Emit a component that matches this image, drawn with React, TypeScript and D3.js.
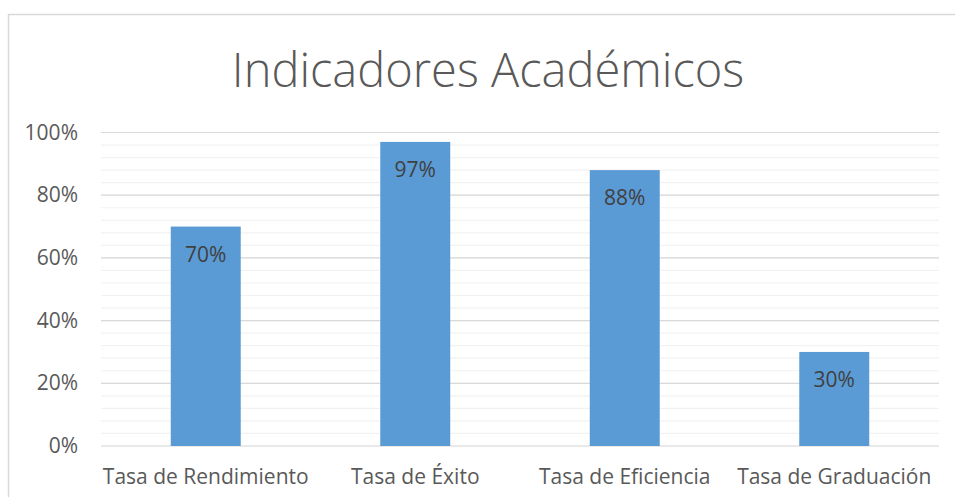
import * as d3 from "d3";
import { useEffect, useRef } from "react";

const WIDTH = 955;
const HEIGHT = 497;
const MARGIN = { top: 132, right: 16, bottom: 51, left: 93 };
const FONT = "'Open Sans', 'Noto Sans', sans-serif";
const LABEL_SIZE = 21;

const CATEGORIES = [
  "Tasa de Rendimiento",
  "Tasa de Éxito",
  "Tasa de Eficiencia",
  "Tasa de Graduación",
];
const VALUES = [0.7, 0.97, 0.88, 0.3];
const MAJOR_TICKS = [0, 0.2, 0.4, 0.6, 0.8, 1];
const MINOR_TICKS = d3.range(0, 1.0001, 0.04);

export default function App() {
  const svgRef = useRef<SVGSVGElement>(null);

  useEffect(() => {
    if (!svgRef.current) return;
    const svg = d3.select(svgRef.current);
    svg.selectAll("*").remove();

    const plotLeft = MARGIN.left + 8;
    const plotRight = WIDTH - MARGIN.right;
    const plotTop = MARGIN.top + 0.5;
    const plotBottom = HEIGHT - MARGIN.bottom;

    const x = d3
      .scaleBand()
      .domain(CATEGORIES)
      .range([plotLeft, plotRight])
      .paddingInner(0.666)
      .paddingOuter(0.333);

    const y = d3.scaleLinear().domain([0, 1]).range([plotBottom, plotTop]);

    // borde del gráfico
    svg
      .append("rect")
      .attr("x", 8.5)
      .attr("y", 14.5)
      .attr("width", 970)
      .attr("height", 500)
      .attr("fill", "white")
      .attr("stroke", "#d9d9d9")
      .attr("stroke-width", 1.5);

    // título
    svg
      .append("text")
      .attr("x", 488)
      .attr("y", 87)
      .attr("text-anchor", "middle")
      .attr("font-family", FONT)
      .attr("font-weight", 300)
      .attr("font-size", 47)
      .attr("fill", "#595959")
      .text("Indicadores Académicos");

    // líneas de cuadrícula menores
    svg
      .append("g")
      .selectAll("line")
      .data(MINOR_TICKS)
      .enter()
      .append("line")
      .attr("x1", plotLeft)
      .attr("x2", plotRight)
      .attr("y1", (d) => y(d))
      .attr("y2", (d) => y(d))
      .attr("stroke", "#f2f2f2")
      .attr("stroke-width", 1.2);

    // líneas de cuadrícula mayores
    svg
      .append("g")
      .selectAll("line")
      .data(MAJOR_TICKS)
      .enter()
      .append("line")
      .attr("x1", plotLeft)
      .attr("x2", plotRight)
      .attr("y1", (d) => y(d))
      .attr("y2", (d) => y(d))
      .attr("stroke", "#d9d9d9")
      .attr("stroke-width", 1.2);

    // etiquetas del eje Y
    svg
      .append("g")
      .selectAll("text")
      .data(MAJOR_TICKS)
      .enter()
      .append("text")
      .attr("x", 78)
      .attr("y", (d) => y(d) + 7)
      .attr("text-anchor", "end")
      .attr("font-family", FONT)
      .attr("font-size", LABEL_SIZE)
      .attr("fill", "#595959")
      .text((d) => d3.format(".0%")(d));

    // barras
    const data = CATEGORIES.map((c, i) => ({ cat: c, value: VALUES[i] }));
    svg
      .append("g")
      .selectAll("rect")
      .data(data)
      .enter()
      .append("rect")
      .attr("x", (d) => x(d.cat)!)
      .attr("y", (d) => y(d.value))
      .attr("width", x.bandwidth())
      .attr("height", (d) => plotBottom - y(d.value))
      .attr("fill", "#5b9bd5");

    // etiquetas de datos
    svg
      .append("g")
      .selectAll("text")
      .data(data)
      .enter()
      .append("text")
      .attr("x", (d) => x(d.cat)! + x.bandwidth() / 2)
      .attr("y", (d) => y(d.value) + 35)
      .attr("text-anchor", "middle")
      .attr("font-family", FONT)
      .attr("font-size", LABEL_SIZE)
      .attr("fill", "#404040")
      .text((d) => d3.format(".0%")(d.value));

    // etiquetas del eje X
    svg
      .append("g")
      .selectAll("text")
      .data(CATEGORIES)
      .enter()
      .append("text")
      .attr("x", (d) => x(d)! + x.bandwidth() / 2)
      .attr("y", plotBottom + 38)
      .attr("text-anchor", "middle")
      .attr("font-family", FONT)
      .attr("font-size", LABEL_SIZE)
      .attr("fill", "#595959")
      .text((d) => d);
  }, []);

  return (
    <svg
      ref={svgRef}
      width={WIDTH}
      height={HEIGHT}
      style={{ position: "absolute", left: 0, top: 0 }}
    ></svg>
  );
}
